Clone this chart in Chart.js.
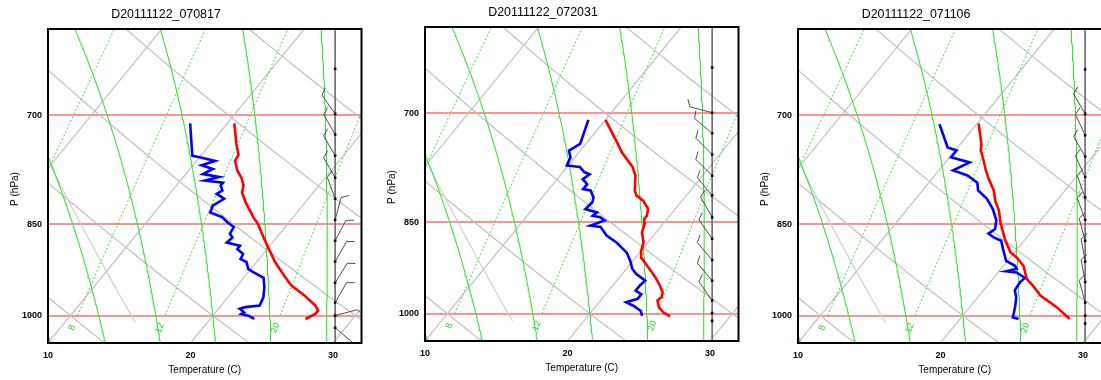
<!DOCTYPE html>
<html>
<head>
<meta charset="utf-8">
<script src="https://cdn.jsdelivr.net/npm/chart.js@4.4.1/dist/chart.umd.min.js"></script>
<style>
  html, body { margin: 0; padding: 0; background: #fff; overflow: hidden; width: 1101px; height: 380px; position: relative; }
  canvas { position: absolute; }
</style>
</head>
<body>
<canvas id="c1" width="372" height="380" style="left:0px;top:0px"></canvas>
<canvas id="c2" width="372" height="380" style="left:377px;top:-2px"></canvas>
<canvas id="c3" width="372" height="380" style="left:750px;top:0px"></canvas>
<script>
// ---- axes ----
const tempTicks = [10, 20, 30];
const pressureTicks = [700, 850, 1000];
const X_MIN = 10, X_MAX = 32;           // skewed temperature axis (deg C at the 1050 hPa edge)
const P_TOP = 600, P_BOTTOM = 1050;
const SKEW = 74;                        // deg C of skew per decade of pressure
const STAFF_X = 30.15;                  // wind column position on the skewed axis

// ---- thermodynamic background ----
const isotherms = [-40, -30, -20, -10, 0, 10, 20, 30, 40];
const dryAdiabats = [-10, 0, 10, 20, 30, 40, 50, 60, 70, 80, 90, 100];
const moistAdiabats = [4, 8, 12, 16, 20, 24, 28, 32];
const mixingRatios = [1, 2, 3, 5, 8, 12, 20];

// ---- soundings ----
const titles = ['D20111122_070817', 'D20111122_072031', 'D20111122_071106'];

const pres1T = [1006, 997, 991, 982, 965, 948, 931, 909, 893, 872, 849, 839, 817, 803, 793, 782, 772, 759, 751, 736, 710];
const temp1T = [26.7, 27.1, 27.1, 26.6, 25.3, 23.8, 22.7, 21.3, 20.4, 19.2, 17.9, 17.2, 15.8, 15.0, 14.7, 14.1, 13.4, 12.7, 12.6, 11.8, 10.5];
const pres1D = [1006, 1000, 997, 994, 988, 985, 982, 968, 951, 935, 926, 920, 909, 904, 896, 888, 883, 878, 870, 864, 854, 847, 839, 832, 822, 812, 805, 800, 793, 789, 786, 781, 777, 770, 765, 759, 754, 752, 710];
const dew1   = [23.1, 22.5, 21.9, 22.0, 21.5, 21.8, 22.7, 22.5, 22.0, 21.4, 20.4, 19.8, 19.3, 18.7, 18.6, 17.9, 17.9, 16.8, 16.9, 16.5, 16.4, 15.7, 15.0, 13.9, 13.7, 14.1, 13.3, 13.5, 13.1, 13.1, 11.7, 12.5, 11.2, 11.6, 10.6, 11.3, 10.0, 9.4, 7.4];

const pres2T = [1005, 998, 989, 977, 971, 963, 951, 937, 923, 905, 894, 881, 865, 852, 845, 840, 830, 818, 810, 803, 782, 770, 750, 737, 708];
const temp2T = [25.8, 25.1, 24.5, 24.0, 24.1, 23.9, 23.3, 22.5, 21.6, 20.4, 20.0, 19.7, 19.0, 18.7, 18.4, 18.4, 18.1, 17.3, 16.5, 16.1, 15.3, 14.6, 13.0, 12.1, 10.0];
const pres2D = [1004, 995, 986, 980, 974, 966, 960, 951, 943, 932, 923, 910, 897, 881, 870, 857, 855, 847, 842, 840, 835, 830, 820, 813, 803, 801, 794, 787, 780, 777, 770, 768, 757, 748, 739, 708];
const dew2   = [23.8, 23.4, 22.6, 21.9, 22.5, 22.5, 21.9, 21.9, 22.0, 21.0, 20.4, 19.8, 19.1, 17.8, 16.7, 15.8, 15.0, 15.7, 15.2, 14.6, 14.7, 13.7, 13.8, 13.6, 13.0, 12.4, 12.4, 11.8, 12.0, 11.5, 10.9, 9.9, 9.7, 9.2, 9.6, 8.8];

const pres3T = [1006, 985, 965, 948, 937, 915, 901, 893, 875, 859, 847, 829, 815, 800, 784, 772, 759, 745, 737, 710];
const temp3T = [27.7, 26.1, 24.3, 23.2, 22.4, 21.4, 20.4, 19.7, 18.7, 17.9, 17.3, 16.5, 15.7, 15.0, 14.0, 13.3, 12.6, 11.8, 11.5, 10.1];
const pres3D = [1006, 1003, 994, 982, 968, 956, 942, 935, 926, 924, 920, 915, 907, 888, 875, 870, 864, 857, 844, 827, 812, 800, 789, 779, 772, 761, 754, 745, 741, 711];
const dew3   = [24.1, 23.6, 23.4, 23.1, 22.7, 22.2, 22.1, 22.2, 21.3, 20.5, 21.1, 20.8, 19.9, 19.0, 18.4, 17.7, 17.1, 17.3, 16.9, 16.0, 15.0, 13.9, 13.4, 12.3, 11.0, 11.7, 10.1, 10.1, 9.3, 7.4];

// ---- winds (direction in degrees, speed in knots) ----
const presW1 = [1022, 1000, 977, 943, 908, 875, 843, 812, 782, 752, 724, 698, 644];
const dirW1  = [130, 75, 30, 32, 30, 28, 15, 340, 330, 330, 330, 325, 0];
const spdW1  = [5, 10, 10, 10, 10, 10, 10, 10, 10, 10, 10, 10, 0];

const presW2 = [1013, 999, 977, 943, 909, 875, 842, 810, 782, 753, 725, 699, 645];
const dirW2  = [0, 0, 325, 320, 320, 325, 330, 320, 315, 315, 310, 285, 0];
const spdW2  = [0, 0, 10, 10, 10, 10, 10, 10, 10, 10, 10, 10, 0];

const presW3 = [1014, 1000, 977, 942, 908, 875, 843, 810, 781, 753, 725, 698, 645];
const dirW3  = [0, 0, 345, 350, 350, 345, 340, 340, 335, 330, 335, 330, 0];
const spdW3  = [0, 0, 10, 10, 10, 10, 10, 10, 10, 10, 10, 10, 0];

const FONT = '"Liberation Sans", Arial, Helvetica, sans-serif';
const GRAY = '#c0c0c0';
const GREEN = '#3ce03c';

// ---- helpers ----
function skewX(T, p) { return T + SKEW * Math.log10(P_BOTTOM / p); }
function satVap(Tc) { return 6.112 * Math.exp(17.67 * Tc / (Tc + 243.5)); }
function dewFromVap(e) { const l = Math.log(e / 6.112); return 243.5 * l / (17.67 - l); }
function moistLapse(Tk, p) {
  const Rd = 287.04, cp = 1005.7, Lv = 2.501e6, eps = 0.622;
  const es = satVap(Tk - 273.15);
  const rs = eps * es / (p - es);
  return (Rd * Tk + Lv * rs) / (p * (cp + Lv * Lv * rs * eps / (Rd * Tk * Tk)));
}
function pressureSteps(from, to, step) {
  const out = [];
  for (let p = from; p >= to; p -= step) out.push(p);
  return out;
}
function isothermLine(T) {
  return [1070, 570].map(p => ({ x: skewX(T, p), y: p }));
}
function dryAdiabatLine(thetaC) {
  return pressureSteps(1070, 570, 10).map(p => ({ x: skewX((thetaC + 273.15) * Math.pow(p / 1000, 0.2857) - 273.15, p), y: p }));
}
function moistAdiabatLine(thetaW) {
  const step = 5, up = [], down = [];
  let T = thetaW + 273.15;
  for (let p = 1000; p >= 570; p -= step) {
    up.push({ x: skewX(T - 273.15, p), y: p });
    const k1 = moistLapse(T, p);
    const k2 = moistLapse(T - k1 * step / 2, p - step / 2);
    T -= k2 * step;
  }
  T = thetaW + 273.15;
  for (let p = 1000; p <= 1070; p += step) {
    down.push({ x: skewX(T - 273.15, p), y: p });
    const k1 = moistLapse(T, p);
    const k2 = moistLapse(T + k1 * step / 2, p + step / 2);
    T += k2 * step;
  }
  return down.reverse().concat(up.slice(1));
}
function mixingDew(w, p) { return dewFromVap(w * p / (622 + w)); }
function mixingLine(w) {
  return pressureSteps(1000, 570, 10).map(p => ({ x: skewX(mixingDew(w, p), p), y: p }));
}
function standardAtmosphereLine() {
  const ps = [1013.25].concat(pressureSteps(1000, 570, 10));
  return ps.map(p => ({ x: skewX(288.15 * Math.pow(p / 1013.25, 0.1903) - 273.15, p), y: p }));
}
function lineSet(points, color, width, dash, order) {
  return { data: points, showLine: true, borderColor: color, borderWidth: width, borderDash: dash || [],
           pointRadius: 0, fill: false, tension: 0, order: order };
}
function profile(pres, vals) { return pres.map((p, i) => ({ x: skewX(vals[i], p), y: p })); }

// ---- plugins ----
const frameText = {
  id: 'frameText',
  afterDatasetsDraw(chart) {
    const { ctx, chartArea: a } = chart;
    ctx.save();
    ctx.strokeStyle = '#000';
    ctx.lineWidth = 2;
    ctx.strokeRect(a.left, a.top, a.right - a.left, a.bottom - a.top);
    ctx.restore();
  },
  afterDraw(chart, args, o) {
    const { ctx, chartArea: a } = chart;
    ctx.save();
    ctx.fillStyle = '#000';
    ctx.textAlign = 'center';
    ctx.textBaseline = 'middle';
    ctx.font = '12.4px ' + FONT;
    ctx.fillText(o.title, a.left + 118, a.top - 14);
    ctx.font = '10px ' + FONT;
    ctx.fillText('Temperature (C)', (a.left + a.right) / 2, a.bottom + 27);
    ctx.translate(a.left - 33, a.top + 160);
    ctx.rotate(-Math.PI / 2);
    ctx.fillText('P (hPa)', 0, 0);
    ctx.restore();
  }
};

const mixingLabels = {
  id: 'mixingLabels',
  afterDatasetsDraw(chart) {
    const { ctx, chartArea: a, scales: { x, y } } = chart;
    ctx.save();
    ctx.fillStyle = '#22d822';
    ctx.font = '9px ' + FONT;
    ctx.textAlign = 'center';
    ctx.textBaseline = 'middle';
    mixingRatios.forEach(w => {
      const pl = 1022;
      const px = x.getPixelForValue(skewX(mixingDew(w, pl), pl));
      const py = y.getPixelForValue(pl);
      if (px < a.left + 4 || px > a.right - 4) return;
      ctx.save();
      ctx.translate(px, py);
      ctx.rotate(-70 * Math.PI / 180);
      ctx.fillText(String(w), 0, 0);
      ctx.restore();
    });
    ctx.restore();
  }
};

const windBarbs = {
  id: 'windBarbs',
  afterDatasetsDraw(chart, args, o) {
    const { ctx, chartArea: a, scales: { x, y } } = chart;
    ctx.save();
    ctx.beginPath();
    ctx.rect(a.left, a.top, a.right - a.left, a.bottom - a.top);
    ctx.clip();
    ctx.strokeStyle = '#3a3a3a';
    ctx.lineWidth = 0.9;
    const L = 23, rot = 60 * Math.PI / 180;
    o.pres.forEach((p, i) => {
      const spd = o.spd[i];
      if (!spd) return;
      const d = o.dir[i] * Math.PI / 180;
      const ux = Math.sin(d), uy = -Math.cos(d);
      const x0 = x.getPixelForValue(STAFF_X), y0 = y.getPixelForValue(p);
      const x1 = x0 + ux * L, y1 = y0 + uy * L;
      const fx = ux * Math.cos(rot) - uy * Math.sin(rot);
      const fy = ux * Math.sin(rot) + uy * Math.cos(rot);
      ctx.beginPath();
      ctx.moveTo(x0, y0);
      ctx.lineTo(x1, y1);
      let rem = spd, k = 0;
      while (rem >= 10) {
        const bx = x1 - ux * k * 3, by = y1 - uy * k * 3;
        ctx.moveTo(bx, by); ctx.lineTo(bx + fx * 8, by + fy * 8);
        rem -= 10; k++;
      }
      if (rem >= 5) {
        const bx = x1 - ux * (k + 0.5) * 3, by = y1 - uy * (k + 0.5) * 3;
        ctx.moveTo(bx, by); ctx.lineTo(bx + fx * 4, by + fy * 4);
      }
      ctx.stroke();
    });
    ctx.restore();
  }
};

// ---- one skew-T panel ----
function buildPanel(id, title, presT, tempT, presD, dew, presW, dirW, spdW) {
  const datasets = [];
  datasets.push(lineSet(profile(presT, tempT), '#ff0000', 2.6, null, 0));
  datasets.push(lineSet(profile(presD, dew), '#0000ff', 2.6, null, 0));
  datasets.push({ data: presW.map(p => ({ x: STAFF_X, y: p })), showLine: false, pointStyle: 'rect',
                  pointRadius: 1.8, pointBackgroundColor: '#000', pointBorderColor: '#000', pointBorderWidth: 0, order: 1 });
  datasets.push(lineSet([{ x: STAFF_X, y: 1070 }, { x: STAFF_X, y: 570 }], '#6a6a6a', 1.6, null, 2));
  mixingRatios.forEach(w => datasets.push(lineSet(mixingLine(w), GREEN, 1, [2, 2], 5)));
  moistAdiabats.forEach(t => datasets.push(lineSet(moistAdiabatLine(t), GREEN, 1.1, null, 6)));
  datasets.push(lineSet(standardAtmosphereLine(), '#d0d0d0', 1.2, null, 7));
  dryAdiabats.forEach(t => datasets.push(lineSet(dryAdiabatLine(t), GRAY, 1.2, null, 8)));
  isotherms.forEach(t => datasets.push(lineSet(isothermLine(t), GRAY, 1.2, null, 8)));

  return new Chart(document.getElementById(id), {
    type: 'scatter',
    data: { datasets },
    options: {
      responsive: false,
      animation: false,
      devicePixelRatio: 1,
      events: [],
      layout: { padding: { left: 8, right: 10.5, top: 29, bottom: 0 } },
      plugins: {
        legend: { display: false },
        tooltip: { enabled: false },
        frameText: { title },
        windBarbs: { pres: presW, dir: dirW, spd: spdW }
      },
      scales: {
        x: {
          type: 'linear', min: X_MIN, max: X_MAX,
          afterBuildTicks: s => { s.ticks = tempTicks.map(v => ({ value: v })); },
          afterFit: s => { s.height = 37; },
          grid: { display: false, drawTicks: false },
          border: { display: false },
          ticks: { color: '#000', font: { family: FONT, size: 9, weight: 'bold' }, padding: 7, maxRotation: 0,
                   callback: v => String(v) }
        },
        y: {
          type: 'logarithmic', min: P_TOP, max: P_BOTTOM, reverse: true,
          afterBuildTicks: s => { s.ticks = pressureTicks.map(v => ({ value: v })); },
          afterFit: s => { s.width = 40; },
          grid: { color: 'rgba(255,80,80,0.62)', lineWidth: 2, drawTicks: false },
          border: { display: false },
          ticks: { color: '#000', font: { family: FONT, size: 9, weight: 'bold' }, padding: 6, autoSkip: false,
                   callback: v => String(v) }
        }
      }
    },
    plugins: [frameText, mixingLabels, windBarbs]
  });
}

buildPanel('c1', titles[0], pres1T, temp1T, pres1D, dew1, presW1, dirW1, spdW1);
buildPanel('c2', titles[1], pres2T, temp2T, pres2D, dew2, presW2, dirW2, spdW2);
buildPanel('c3', titles[2], pres3T, temp3T, pres3D, dew3, presW3, dirW3, spdW3);
</script>
</body>
</html>
